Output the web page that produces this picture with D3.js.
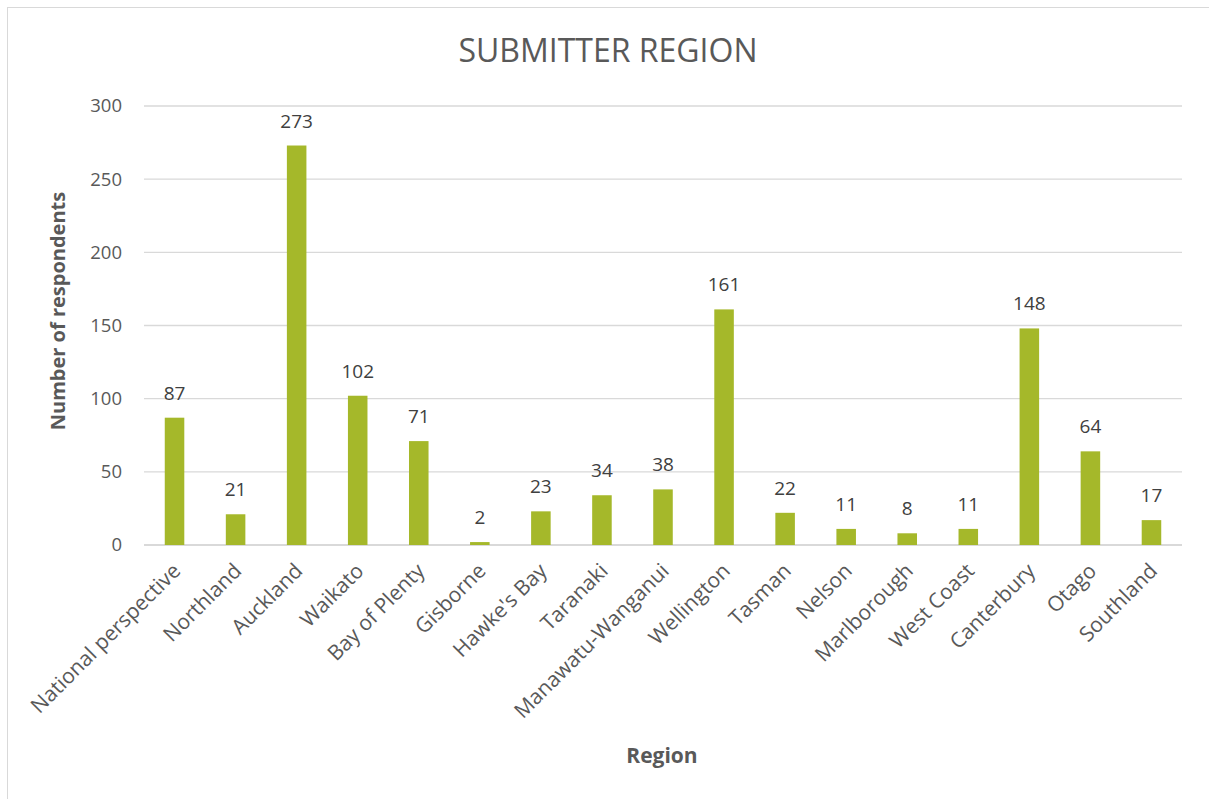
<!DOCTYPE html>
<html>
<head>
<meta charset="utf-8">
<script src="https://cdn.jsdelivr.net/npm/d3@7"></script>
<style>
  body { margin: 0; background: #fff; }
  svg text { font-family: "Open Sans", "Liberation Sans", sans-serif; fill: #595959; }
</style>
</head>
<body>
<svg id="chart" width="1209" height="799"></svg>
<script>
var regions = ["National perspective", "Northland", "Auckland", "Waikato", "Bay of Plenty",
  "Gisborne", "Hawke's Bay", "Taranaki", "Manawatu-Wanganui", "Wellington", "Tasman",
  "Nelson", "Marlborough", "West Coast", "Canterbury", "Otago", "Southland"];
var respondents = [87, 21, 273, 102, 71, 2, 23, 34, 38, 161, 22, 11, 8, 11, 148, 64, 17];
var yTicks = [0, 50, 100, 150, 200, 250, 300];

var svg = d3.select("#chart");
var plotLeft = 144, plotRight = 1182, plotTop = 106, plotBottom = 545;

// outer chart border
svg.append("rect")
  .attr("x", 7.5).attr("y", 7.5)
  .attr("width", 1215).attr("height", 810)
  .attr("fill", "none")
  .attr("stroke", "#d9d9d9");

var x = d3.scaleBand()
  .domain(regions)
  .range([plotLeft, plotRight])
  .paddingInner(0.68)
  .paddingOuter(0.34);

var y = d3.scaleLinear()
  .domain([0, 300])
  .range([plotBottom, plotTop]);

// gridlines
svg.append("g")
  .selectAll("line")
  .data(yTicks)
  .enter()
  .append("line")
  .attr("x1", plotLeft).attr("x2", plotRight)
  .attr("y1", function(d) { return y(d); })
  .attr("y2", function(d) { return y(d); })
  .attr("stroke", "#d9d9d9")
  .attr("stroke-width", function(d) { return d === 0 ? 2 : 1.3; });

// y tick labels
svg.append("g")
  .selectAll("text")
  .data(yTicks)
  .enter()
  .append("text")
  .attr("x", 122)
  .attr("y", function(d) { return y(d); })
  .attr("dy", "0.35em")
  .attr("text-anchor", "end")
  .style("font-size", "18.5px")
  .text(function(d) { return d; });

// bars
svg.append("g")
  .selectAll("rect")
  .data(respondents)
  .enter()
  .append("rect")
  .attr("x", function(d, i) { return x(regions[i]); })
  .attr("y", function(d) { return y(d); })
  .attr("width", x.bandwidth())
  .attr("height", function(d) { return plotBottom - y(d); })
  .attr("fill", "#a5b82a");

// value labels
svg.append("g")
  .selectAll("text")
  .data(respondents)
  .enter()
  .append("text")
  .attr("x", function(d, i) { return x(regions[i]) + x.bandwidth() / 2; })
  .attr("y", function(d) { return y(d) - 18; })
  .attr("text-anchor", "middle")
  .style("font-size", "19px")
  .style("fill", "#404040")
  .text(function(d) { return d; });

// category labels
svg.append("g")
  .selectAll("text")
  .data(regions)
  .enter()
  .append("text")
  .attr("transform", function(d) {
    return "translate(" + (x(d) + x.bandwidth() / 2 + 2) + "," + 567 + ") rotate(-45)";
  })
  .attr("text-anchor", "end")
  .attr("dy", "0.35em")
  .style("font-size", "21px")
  .text(function(d) { return d; });

// title
svg.append("text")
  .attr("x", 608).attr("y", 62)
  .attr("text-anchor", "middle")
  .style("font-size", "32px")
  .text("SUBMITTER REGION");

// axis titles
svg.append("text")
  .attr("transform", "translate(65,311) rotate(-90)")
  .attr("text-anchor", "middle")
  .style("font-size", "20px")
  .style("font-weight", "bold")
  .text("Number of respondents");

svg.append("text")
  .attr("x", 662).attr("y", 763)
  .attr("text-anchor", "middle")
  .style("font-size", "21px")
  .style("font-weight", "bold")
  .text("Region");
</script>
</body>
</html>
